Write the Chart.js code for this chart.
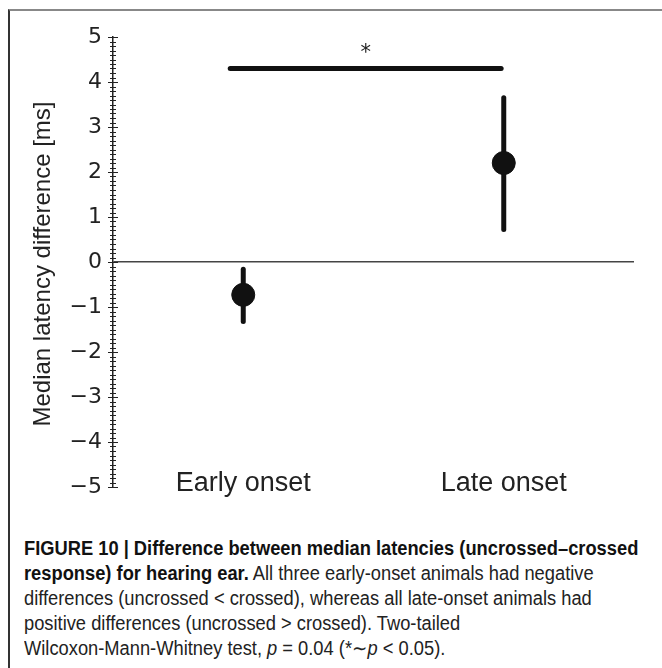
<!DOCTYPE html>
<html lang="en">
<head>
    <meta charset="UTF-8">
    <title>Figure 10</title>
    <script src="https://cdn.jsdelivr.net/npm/chart.js"></script>
    <style>
        * { margin: 0; padding: 0; box-sizing: border-box; }
        body { width: 662px; height: 668px; background: #fff; position: relative; overflow: hidden; }
        .frame {
            position: absolute; left: 8px; top: 9px; width: 720px; height: 720px;
            border-top: 2px solid #888; border-left: 2px solid #333;
        }
        #chartWrap { position: absolute; left: 0; top: 0; width: 662px; height: 520px; }
        .caption {
            position: absolute; left: 24px; top: 536px;
            font-family: 'Liberation Sans', Arial, sans-serif;
            font-size: 20px; line-height: 25px; color: #222; white-space: nowrap;
        }
        .caption div { transform: scaleX(0.915); transform-origin: 0 50%; }
        .caption b { font-weight: bold; color: #111; }
    </style>
</head>
<body>
    <div class="frame"></div>
    <div id="chartWrap"><canvas id="fig" width="662" height="520"></canvas></div>
    <div class="caption">
        <div><b>FIGURE 10 | Difference between median latencies (uncrossed–crossed</b></div>
        <div><b>response) for hearing ear.</b> All three early-onset animals had negative</div>
        <div>differences (uncrossed &lt; crossed), whereas all late-onset animals had</div>
        <div>positive differences (uncrossed &gt; crossed). Two-tailed</div>
        <div>Wilcoxon-Mann-Whitney test, <i>p</i> = 0.04 (*∼<i>p</i> &lt; 0.05).</div>
    </div>

    <script>
        // values
        const groups = ['Early onset', 'Late onset'];
        const medians = [-0.73, 2.2];
        const errLow = [-1.32, 0.72];
        const errHigh = [-0.16, 3.65];
        const sigSpan = [-0.05, 0.99];
        const sigLevel = 4.3;
        const sigLabel = '*';
        const yMin = -5, yMax = 5;

        const ink = '#111';

        const errorSets = groups.map((g, i) => ({
            type: 'line',
            label: g + ' range',
            data: [{ x: i, y: errLow[i] }, { x: i, y: errHigh[i] }],
            borderColor: ink,
            borderWidth: 5,
            borderCapStyle: 'round',
            pointRadius: 0,
            order: 2
        }));

        const decorations = {
            id: 'decorations',
            afterDraw(chart) {
                const { ctx, scales: { x, y } } = chart;
                const ax = y.left + y.width;
                ctx.save();
                // minor ticks on both sides of the y axis
                ctx.strokeStyle = '#222';
                ctx.lineWidth = 1;
                for (let i = 0; i <= (yMax - yMin) * 10; i++) {
                    const py = Math.round(y.getPixelForValue(yMin + i / 10)) + 0.5;
                    const len = i % 10 === 0 ? 5 : 3;
                    ctx.beginPath();
                    ctx.moveTo(ax - len, py);
                    ctx.lineTo(ax + len, py);
                    ctx.stroke();
                }
                // category labels
                ctx.fillStyle = '#222';
                ctx.font = '27px "Liberation Sans", Arial, sans-serif';
                ctx.textAlign = 'center';
                ctx.textBaseline = 'middle';
                groups.forEach((g, i) => {
                    ctx.fillText(g, x.getPixelForValue(i), y.getPixelForValue(yMin) - 3);
                });
                // significance star
                ctx.font = '21px "DejaVu Sans", sans-serif';
                ctx.fillText(sigLabel, x.getPixelForValue((sigSpan[0] + sigSpan[1]) / 2), y.getPixelForValue(sigLevel) - 15);
                // y title
                ctx.translate(43, (y.top + y.bottom) / 2 + 2);
                ctx.rotate(-Math.PI / 2);
                ctx.font = '24px "Liberation Sans", Arial, sans-serif';
                ctx.fillText('Median latency difference [ms]', 0, 0);
                ctx.restore();
            }
        };

        new Chart(document.getElementById('fig'), {
            type: 'scatter',
            data: {
                datasets: [
                    {
                        label: 'Median',
                        data: groups.map((g, i) => ({ x: i, y: medians[i] })),
                        backgroundColor: ink,
                        borderColor: ink,
                        pointRadius: 11.5,
                        pointHoverRadius: 11.5,
                        order: 0
                    },
                    ...errorSets,
                    {
                        type: 'line',
                        label: 'Significance',
                        data: sigSpan.map(v => ({ x: v, y: sigLevel })),
                        borderColor: ink,
                        borderWidth: 5,
                        borderCapStyle: 'round',
                        pointRadius: 0,
                        order: 2
                    }
                ]
            },
            options: {
                responsive: false,
                animation: false,
                devicePixelRatio: 1,
                layout: { padding: { top: 37, bottom: 33, left: 0, right: 28 } },
                plugins: { legend: { display: false }, tooltip: { enabled: false } },
                scales: {
                    x: { type: 'linear', min: -0.5, max: 1.5, display: false },
                    y: {
                        min: yMin, max: yMax,
                        afterFit(scale) { scale.width = 113; },
                        border: { display: true, color: '#222', width: 1.5 },
                        grid: {
                            drawOnChartArea: true,
                            drawTicks: false,
                            color: c => c.tick && c.tick.value === 0 ? '#444' : 'rgba(0,0,0,0)',
                            lineWidth: 1.5
                        },
                        ticks: {
                            stepSize: 1,
                            padding: 11,
                            color: '#222',
                            font: { family: '"DejaVu Sans", sans-serif', size: 22 },
                            callback: v => v < 0 ? '\u2212' + Math.abs(v) : String(v)
                        }
                    }
                }
            },
            plugins: [decorations]
        });
    </script>
</body>
</html>
